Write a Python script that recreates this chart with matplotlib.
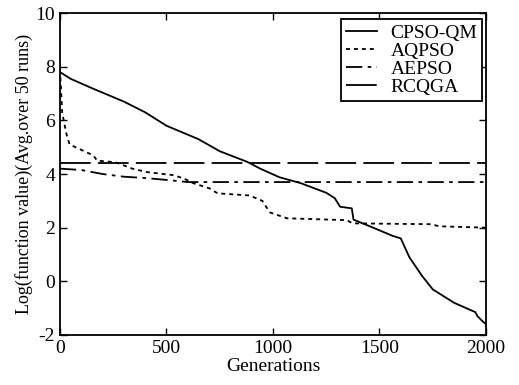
import matplotlib
matplotlib.use("Agg")
import matplotlib.pyplot as plt

plt.rcParams["font.family"] = ["Liberation Serif", "DejaVu Serif"]
plt.rcParams["axes.unicode_minus"] = False

# CPSO-QM (solid)
cpso_x = [0, 50, 150, 300, 400, 500, 650, 750, 880, 940, 1030, 1130, 1250,
          1290, 1315, 1370, 1378, 1470, 1560, 1600, 1640, 1700, 1750, 1850,
          1950, 1960, 1985, 2000]
cpso_y = [7.8, 7.55, 7.2, 6.7, 6.3, 5.8, 5.3, 4.85, 4.45, 4.2, 3.88, 3.66, 3.3,
          3.1, 2.78, 2.72, 2.3, 2.0, 1.7, 1.6, 0.9, 0.2, -0.3, -0.8,
          -1.15, -1.3, -1.5, -1.6]

# AQPSO (dotted)
aqpso_x = [0, 10, 30, 45, 100, 155, 175, 260, 340, 410, 530, 580, 625, 700,
           740, 890, 950, 985, 1065, 1345, 1375, 1735, 1785, 2000]
aqpso_y = [7.9, 6.3, 5.5, 5.1, 4.9, 4.7, 4.5, 4.44, 4.2, 4.07, 3.96, 3.84,
           3.66, 3.47, 3.28, 3.2, 3.0, 2.57, 2.35, 2.28, 2.16, 2.13, 2.05, 2.0]

# AEPSO (dash-dot)
aepso_x = [0, 100, 200, 300, 400, 500, 600, 2000]
aepso_y = [4.2, 4.15, 4.0, 3.9, 3.85, 3.78, 3.7, 3.7]

# RCQGA (long dash)
rcqga_x = [0, 2000]
rcqga_y = [4.4, 4.4]

labels = ["CPSO-QM", "AQPSO", "AEPSO", "RCQGA"]

fig = plt.figure(figsize=(5.19, 3.85), dpi=100)
ax = fig.add_axes([0.1156, 0.130, 0.8208, 0.836])

ax.plot(cpso_x, cpso_y, color="black", lw=1.3, label=labels[0])
ax.plot(aqpso_x, aqpso_y, color="black", lw=1.3, dashes=(2.2, 2.2),
        label=labels[1])
ax.plot(aepso_x, aepso_y, color="black", lw=1.3, dashes=(9, 3, 2, 3),
        label=labels[2])
ax.plot(rcqga_x, rcqga_y, color="black", lw=1.3, dashes=(17, 4),
        label=labels[3])

ax.set_xlim(0, 2000)
ax.set_ylim(-2, 10)
ax.set_xticks([0, 500, 1000, 1500, 2000])
ax.set_yticks([-2, 0, 2, 4, 6, 8, 10])
ax.tick_params(direction="in", top=True, right=True, length=5,
               labelsize=14, width=1)
for s in ax.spines.values():
    s.set_linewidth(1.3)

ax.set_xlabel("Generations", fontsize=14, labelpad=1)
ax.set_ylabel("Log(function value)(Avg.over 50 runs)", fontsize=13,
              labelpad=2)

leg = ax.legend(loc="upper right", fontsize=14, handlelength=1.6,
                fancybox=False, edgecolor="black", framealpha=1,
                borderpad=0.25, labelspacing=0.02, handletextpad=0.7,
                borderaxespad=0, bbox_to_anchor=(0.991, 0.981))
leg.get_frame().set_linewidth(1.3)

fig.savefig("out.png", dpi=100)
